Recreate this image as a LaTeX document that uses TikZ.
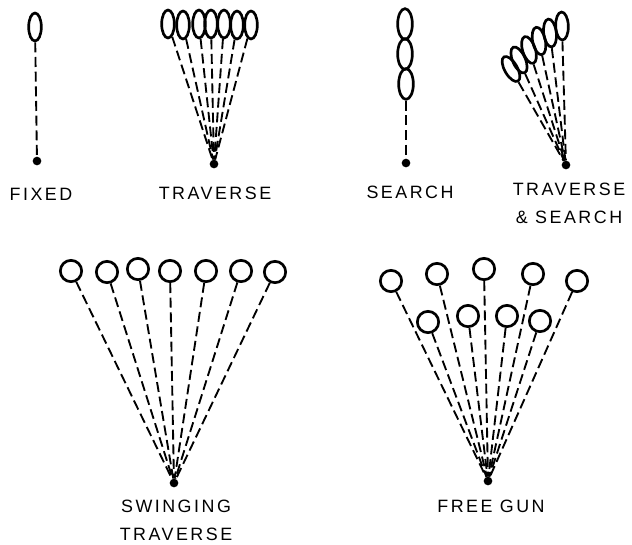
\documentclass[tikz,border=0pt]{standalone}
\usepackage{fontspec}
\usetikzlibrary{shapes.geometric}
\newfontfamily\labelfont[LetterSpace=14]{Liberation Sans}

\begin{document}
\begin{tikzpicture}[x=0.75pt,y=-0.75pt,
    every node/.style={font=\labelfont\fontsize{13.4}{18}\selectfont},
    gun/.style={circle,fill=black,inner sep=0pt,minimum size=6.5pt},
    zone/.style={ellipse,draw=black,line width=2pt,fill=none,inner sep=0pt,minimum width=9.5pt,minimum height=21pt},
    longzone/.style={zone,minimum width=11pt,minimum height=23pt},
    target/.style={circle,draw=black,line width=2pt,inner sep=0pt,minimum size=16pt},
    fire/.style={line width=1.4pt,dash pattern=on 7.5pt off 3.5pt},
    tag/.style={align=center,inner sep=0pt}]
        \useasboundingbox (0,0) rectangle (632,544);
        % fixed
        \node[zone] (fx) at (35,27) {};
        \node[gun] (fxgun) at (37,161) {};
        \draw[fire] (fx) -- (fxgun);
        \node[tag] (fxtag) at (41,194) {FIXED};
        % traverse
        \node[gun] (trgun) at (214,164) {};
        \node[zone] (tr1) at (168,24) {};
        \node[zone] (tr2) at (183,25) {};
        \node[zone] (tr3) at (199,24) {};
        \node[zone] (tr4) at (211,24) {};
        \node[zone] (tr5) at (224,24) {};
        \node[zone] (tr6) at (237,25) {};
        \node[zone] (tr7) at (251,25) {};
        \draw[fire] (tr1) -- (trgun);
        \draw[fire] (tr2) -- (trgun);
        \draw[fire] (tr3) -- (trgun);
        \draw[fire] (tr4) -- (trgun);
        \draw[fire] (tr5) -- (trgun);
        \draw[fire] (tr6) -- (trgun);
        \draw[fire] (tr7) -- (trgun);
        \node[tag] (trtag) at (215,193) {TRAVERSE};
        % search
        \node[gun] (segun) at (406,163) {};
        \node[longzone] (se1) at (405,24) {};
        \node[longzone] (se2) at (405,54) {};
        \node[longzone] (se3) at (406,84) {};
        \draw[fire] (se3) -- (segun);
        \node[tag] (setag) at (410,192) {SEARCH};
        % traverse and search
        \node[gun] (tsgun) at (566,165) {};
        \node[zone,rotate=2] (ts1) at (562,26) {};
        \node[zone,rotate=7] (ts2) at (550,33) {};
        \node[zone,rotate=12] (ts3) at (539,41) {};
        \node[zone,rotate=18] (ts4) at (529,50) {};
        \node[zone,rotate=24] (ts5) at (519,60) {};
        \node[zone,rotate=30] (ts6) at (511,69) {};
        \draw[fire] (ts1) -- (tsgun);
        \draw[fire] (ts2) -- (tsgun);
        \draw[fire] (ts3) -- (tsgun);
        \draw[fire] (ts4) -- (tsgun);
        \draw[fire] (ts5) -- (tsgun);
        \draw[fire] (ts6) -- (tsgun);
        \node[tag] (tstag) at (569,203.5) {TRAVERSE\\[3pt]\&~SEARCH};
        % swinging traverse
        \node[gun] (swgun) at (174,483) {};
        \node[target] (sw1) at (71,271) {};
        \node[target] (sw2) at (107,272) {};
        \node[target] (sw3) at (138,269) {};
        \node[target] (sw4) at (170,271) {};
        \node[target] (sw5) at (206,271) {};
        \node[target] (sw6) at (241,271) {};
        \node[target] (sw7) at (275,272) {};
        \draw[fire] (sw1) -- (swgun);
        \draw[fire] (sw2) -- (swgun);
        \draw[fire] (sw3) -- (swgun);
        \draw[fire] (sw4) -- (swgun);
        \draw[fire] (sw5) -- (swgun);
        \draw[fire] (sw6) -- (swgun);
        \draw[fire] (sw7) -- (swgun);
        \node[tag] (swtag) at (176,520.5) {SWINGING\\[3pt]TRAVERSE};
        % free gun
        \node[gun] (fggun) at (488,481) {};
        \node[target] (fg1) at (391,281) {};
        \node[target] (fg2) at (437,274) {};
        \node[target] (fg3) at (484,269) {};
        \node[target] (fg4) at (533,274) {};
        \node[target] (fg5) at (577,281) {};
        \node[target] (fg6) at (428,322) {};
        \node[target] (fg7) at (468,316) {};
        \node[target] (fg8) at (507,316) {};
        \node[target] (fg9) at (540,321) {};
        \draw[fire] (fg1) -- (fggun);
        \draw[fire] (fg2) -- (fggun);
        \draw[fire] (fg3) -- (fggun);
        \draw[fire] (fg4) -- (fggun);
        \draw[fire] (fg5) -- (fggun);
        \draw[fire] (fg6) -- (fggun);
        \draw[fire] (fg7) -- (fggun);
        \draw[fire] (fg8) -- (fggun);
        \draw[fire] (fg9) -- (fggun);
        \node[tag] (fgtag) at (491,506) {FREE GUN};
      \end{tikzpicture}
\end{document}
